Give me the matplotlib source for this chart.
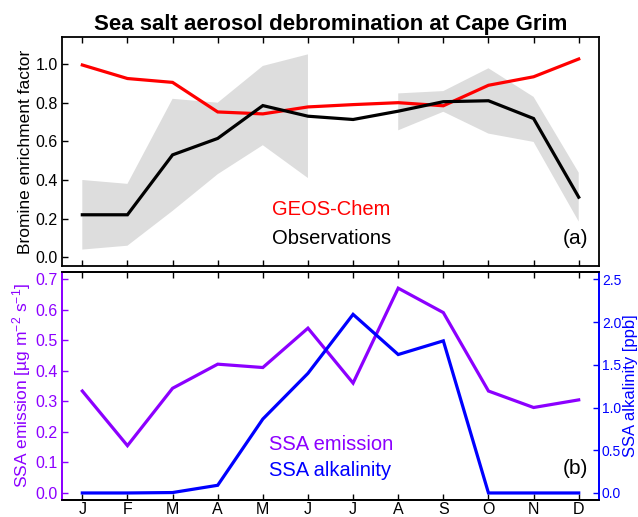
import numpy as np
import matplotlib
matplotlib.use("Agg")
import matplotlib.pyplot as plt

plt.rcParams['font.family'] = ['Liberation Sans', 'DejaVu Sans']
plt.rcParams['mathtext.fontset'] = 'custom'
plt.rcParams['mathtext.rm'] = 'Liberation Sans'
plt.rcParams['mathtext.it'] = 'Liberation Sans:italic'

# data
months = ['J', 'F', 'M', 'A', 'M', 'J', 'J', 'A', 'S', 'O', 'N', 'D']
geos_chem = [0.995, 0.925, 0.905, 0.752, 0.742, 0.778, 0.79, 0.80, 0.784, 0.89, 0.934, 1.026]
observations = [0.22, 0.22, 0.53, 0.615, 0.785, 0.73, 0.713, 0.756, 0.805, 0.81, 0.718, 0.311]
obs_low = [0.04, 0.06, 0.24, 0.43, 0.58, 0.41, np.nan, 0.657, 0.753, 0.64, 0.597, 0.185]
obs_high = [0.40, 0.38, 0.82, 0.80, 0.99, 1.05, np.nan, 0.848, 0.86, 0.978, 0.83, 0.438]
ssa_emission = [0.334, 0.155, 0.343, 0.422, 0.411, 0.54, 0.36, 0.671, 0.591, 0.334, 0.28, 0.305]
ssa_alkalinity = [0.0, 0.0, 0.005, 0.09, 0.865, 1.40, 2.09, 1.62, 1.78, 0.0, 0.0, 0.0]

purple = '#8C00FF'
blue = '#0000FF'
x = np.arange(len(months))

fig = plt.figure(figsize=(6.38, 5.17), dpi=100)
ax1 = fig.add_axes([0.0972, 0.4855, 0.8417, 0.443])
ax2 = fig.add_axes([0.0972, 0.0329, 0.8417, 0.441])

# top panel
ax1.fill_between(x, obs_low, obs_high, color='#DDDDDD', linewidth=0)
ax1.plot(x, geos_chem, color='red', lw=2.3, solid_joinstyle='miter')
ax1.plot(x, observations, color='black', lw=2.3, solid_joinstyle='miter')
ax1.set_xlim(-0.45, 11.45)
ax1.set_ylim(-0.045, 1.14)
ax1.set_yticks(np.arange(0, 1.01, 0.2))
ax1.set_yticklabels(['%.1f' % v for v in np.arange(0, 1.01, 0.2)])
ax1.set_xticks(x)
ax1.set_xticklabels([])
ax1.tick_params(axis='x', direction='in', top=True, bottom=True, length=4, width=1)
ax1.tick_params(axis='y', direction='in', left=True, right=False, length=4, width=1, labelsize=11.5, pad=3)
ax1.set_ylabel('Bromine enrichment factor', fontsize=12.5, labelpad=2)
ax1.set_title('Sea salt aerosol debromination at Cape Grim', fontsize=16, fontweight='bold', pad=5)
ax1.text(0.391, 0.245, 'GEOS-Chem', color='red', fontsize=14.5, transform=ax1.transAxes, va='center')
ax1.text(0.391, 0.118, 'Observations', color='black', fontsize=14.5, transform=ax1.transAxes, va='center')
ax1.text(0.98, 0.118, '(a)', color='black', fontsize=15, transform=ax1.transAxes, va='center', ha='right')
for s in ax1.spines.values():
    s.set_linewidth(1.3)

# bottom panel
ax2.plot(x, ssa_emission, color=purple, lw=2.3, solid_joinstyle='miter')
ax2.set_xlim(-0.45, 11.45)
ax2.set_ylim(-0.023, 0.724)
ax2.set_yticks(np.arange(0, 0.71, 0.1))
ax2.set_yticklabels(['%.1f' % v for v in np.arange(0, 0.71, 0.1)])
ax2.set_xticks(x)
ax2.set_xticklabels(months, fontsize=11.5)
ax2.tick_params(axis='x', direction='in', top=True, bottom=True, length=4, width=1, pad=1.5)
ax2.tick_params(axis='y', direction='in', length=4, width=1, colors=purple, labelsize=11.5, pad=3)
ax2.set_ylabel('SSA emission [\u00b5g m$^{-2}$ s$^{-1}$]', color=purple, fontsize=12.5, labelpad=2)

ax3 = ax2.twinx()
ax3.plot(x, ssa_alkalinity, color=blue, lw=2.3, solid_joinstyle='miter')
ax3.set_ylim(-0.023 * 2.5 / 0.7, 0.724 * 2.5 / 0.7)
ax3.set_yticks(np.arange(0, 2.51, 0.5))
ax3.set_yticklabels(['%.1f' % v for v in np.arange(0, 2.51, 0.5)])
ax3.tick_params(axis='y', direction='in', length=4, width=1, colors=blue, labelsize=10, pad=2)
ax3.set_ylabel('SSA alkalinity [ppb]', color=blue, fontsize=12, labelpad=1)

for s in list(ax2.spines.values()) + list(ax3.spines.values()):
    s.set_linewidth(1.3)
ax2.spines['left'].set_color(purple)
ax3.spines['left'].set_color(purple)
ax3.spines['right'].set_color(blue)
ax2.spines['right'].set_color(blue)

ax2.text(0.385, 0.244, 'SSA emission', color=purple, fontsize=14.5, transform=ax2.transAxes, va='center')
ax2.text(0.385, 0.128, 'SSA alkalinity', color=blue, fontsize=14.5, transform=ax2.transAxes, va='center')
ax2.text(0.98, 0.139, '(b)', color='black', fontsize=15, transform=ax2.transAxes, va='center', ha='right')

fig.savefig('out.png', dpi=100)
plt.close(fig)
